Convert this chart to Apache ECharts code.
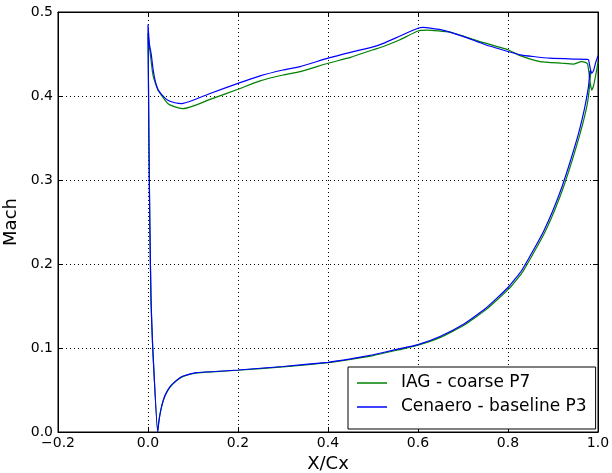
<!DOCTYPE html>
<html>
<head>
<meta charset="utf-8">
<script src="https://cdn.jsdelivr.net/npm/echarts@6/dist/echarts.min.js"></script>
<style>html,body{margin:0;padding:0;background:#fff;}#c{width:612px;height:473px;}</style>
</head>
<body>
<div id="c"></div>
<script>
// Axis ticks
const xTicks = [-0.2, 0.0, 0.2, 0.4, 0.6, 0.8, 1.0];
const yTicks = [0.0, 0.1, 0.2, 0.3, 0.4, 0.5];
const seriesNames = ['IAG - coarse P7', 'Cenaero - baseline P3'];

// IAG - coarse P7 : pressure side (TE -> LE) then suction side (LE -> TE)
const xIAG = [0.984, 0.981, 0.976, 0.968, 0.958, 0.943, 0.923, 0.903, 0.883, 0.863, 0.833, 0.803, 0.752, 0.702, 0.651, 0.600, 0.550, 0.500, 0.450, 0.400, 0.300, 0.200, 0.150, 0.108, 0.080, 0.071, 0.060, 0.049, 0.040, 0.034, 0.028, 0.024, 0.0215,
  0.0104, 0.0067, 0.004, 0.002, 0.0005, 0.0,
  0.004, 0.011, 0.022, 0.027, 0.044, 0.060, 0.077, 0.100, 0.138, 0.200, 0.249, 0.300, 0.338, 0.400, 0.450, 0.500, 0.523, 0.560, 0.600, 0.620, 0.671, 0.730, 0.800, 0.827, 0.871, 0.920, 0.945, 0.963, 0.972, 0.977, 0.983, 0.986, 0.990, 0.995, 1.000];
const yIAG = [0.430, 0.410, 0.390, 0.371, 0.351, 0.324, 0.291, 0.263, 0.239, 0.219, 0.191, 0.171, 0.146, 0.127, 0.113, 0.1035, 0.097, 0.091, 0.0865, 0.0825, 0.0775, 0.0735, 0.0718, 0.0703, 0.0665, 0.064, 0.0595, 0.0535, 0.0455, 0.0375, 0.025, 0.012, 0.0,
  0.1015, 0.157, 0.250, 0.350, 0.450, 0.475,
  0.455, 0.425, 0.407, 0.403, 0.391, 0.387, 0.385, 0.388, 0.396, 0.408, 0.418, 0.425, 0.429, 0.439, 0.446, 0.455, 0.459, 0.467, 0.4774, 0.4785, 0.476, 0.466, 0.455, 0.448, 0.441, 0.439, 0.438, 0.441, 0.440, 0.438, 0.415, 0.407, 0.412, 0.425, 0.440];

// Cenaero - baseline P3 : pressure side (TE -> LE) then suction side (LE -> TE)
const xCenaero = [0.982, 0.979, 0.973, 0.965, 0.955, 0.940, 0.920, 0.900, 0.880, 0.860, 0.830, 0.800, 0.750, 0.700, 0.650, 0.600, 0.550, 0.500, 0.450, 0.400, 0.300, 0.200, 0.150, 0.108, 0.080, 0.071, 0.060, 0.049, 0.040, 0.034, 0.028, 0.024, 0.0215,
  0.0104, 0.0067, 0.004, 0.002, 0.0005, 0.0,
  0.003, 0.0074, 0.011, 0.016, 0.022, 0.030, 0.044, 0.060, 0.075, 0.100, 0.138, 0.200, 0.249, 0.300, 0.338, 0.400, 0.450, 0.500, 0.523, 0.560, 0.600, 0.611, 0.650, 0.700, 0.750, 0.800, 0.827, 0.856, 0.893, 0.945, 0.975, 0.979, 0.983, 0.986, 0.990, 0.995, 1.000];
const yCenaero = [0.430, 0.412, 0.393, 0.373, 0.352, 0.325, 0.292, 0.264, 0.240, 0.220, 0.192, 0.172, 0.147, 0.128, 0.114, 0.104, 0.098, 0.092, 0.087, 0.083, 0.078, 0.0738, 0.072, 0.0706, 0.067, 0.0647, 0.060, 0.054, 0.046, 0.038, 0.025, 0.012, 0.0,
  0.1015, 0.157, 0.250, 0.350, 0.450, 0.485,
  0.462, 0.449, 0.433, 0.418, 0.408, 0.402, 0.395, 0.392, 0.391, 0.395, 0.403, 0.415, 0.424, 0.431, 0.435, 0.445, 0.452, 0.4585, 0.4627, 0.4714, 0.4806, 0.4817, 0.479, 0.471, 0.461, 0.453, 0.449, 0.447, 0.445, 0.444, 0.4437, 0.443, 0.432, 0.427, 0.430, 0.440, 0.448];

const pairs = (xs, ys) => xs.map((x, i) => [x, ys[i]]);
const fmt = v => v.toFixed(1).replace('-', '\u2212');
const FONT = 'DejaVu Sans';

const chart = echarts.init(document.getElementById('c'), null, {renderer: 'canvas'});
const gridLine = {show: true, lineStyle: {color: '#000', width: 1, type: [1, 3]}};
const axisLine = {show: true, onZero: false, lineStyle: {color: '#000', width: 1}};
const tick = {show: true, inside: true, length: 5, lineStyle: {color: '#000'}};
chart.setOption({
  animation: false,
  backgroundColor: '#fff',
  grid: {left: 58, right: 14, top: 12, bottom: 41, show: true, borderColor: '#000', borderWidth: 1,
         containLabel: false, outerBoundsMode: 'none'},
  xAxis: [{
    type: 'value', min: xTicks[0], max: xTicks[xTicks.length - 1], interval: 0.2,
    name: 'X/Cx', nameLocation: 'middle', nameGap: 21,
    nameTextStyle: {fontFamily: FONT, fontSize: 18, color: '#000'},
    axisLine: axisLine, axisTick: tick, splitLine: gridLine,
    axisLabel: {formatter: fmt, fontFamily: FONT, fontSize: 14, color: '#000', margin: 4}
  }, {
    type: 'value', position: 'top', min: xTicks[0], max: xTicks[xTicks.length - 1], interval: 0.2,
    axisLine: axisLine, axisTick: tick, splitLine: {show: false}, axisLabel: {show: false}
  }],
  yAxis: [{
    type: 'value', min: yTicks[0], max: yTicks[yTicks.length - 1], interval: 0.1,
    name: 'Mach', nameLocation: 'middle', nameGap: 34,
    nameTextStyle: {fontFamily: FONT, fontSize: 18, color: '#000'},
    axisLine: axisLine, axisTick: tick, splitLine: gridLine,
    axisLabel: {formatter: fmt, fontFamily: FONT, fontSize: 14, color: '#000', margin: 5}
  }, {
    type: 'value', position: 'right', min: yTicks[0], max: yTicks[yTicks.length - 1], interval: 0.1,
    axisLine: axisLine, axisTick: tick, splitLine: {show: false}, axisLabel: {show: false}
  }],
  legend: {
    orient: 'vertical', left: 348, top: 367,
    backgroundColor: '#fff', borderColor: '#000', borderWidth: 1, borderRadius: 0,
    padding: [6, 9, 12, 9], itemGap: 4, itemWidth: 30, itemHeight: 1.5, icon: 'rect',
    textStyle: {fontFamily: FONT, fontSize: 17, color: '#000', lineHeight: 20, padding: [0, 0, 0, 9]},
    data: seriesNames
  },
  series: [{
    name: seriesNames[0], type: 'line', data: pairs(xIAG, yIAG), showSymbol: false, symbol: 'none',
    smooth: 0.15, lineStyle: {color: '#008000', width: 1.2}, itemStyle: {color: '#008000'}, z: 2
  }, {
    name: seriesNames[1], type: 'line', data: pairs(xCenaero, yCenaero), showSymbol: false, symbol: 'none',
    smooth: 0.15, lineStyle: {color: '#0000ff', width: 1.2}, itemStyle: {color: '#0000ff'}, z: 3
  }]
});
</script>
</body>
</html>
